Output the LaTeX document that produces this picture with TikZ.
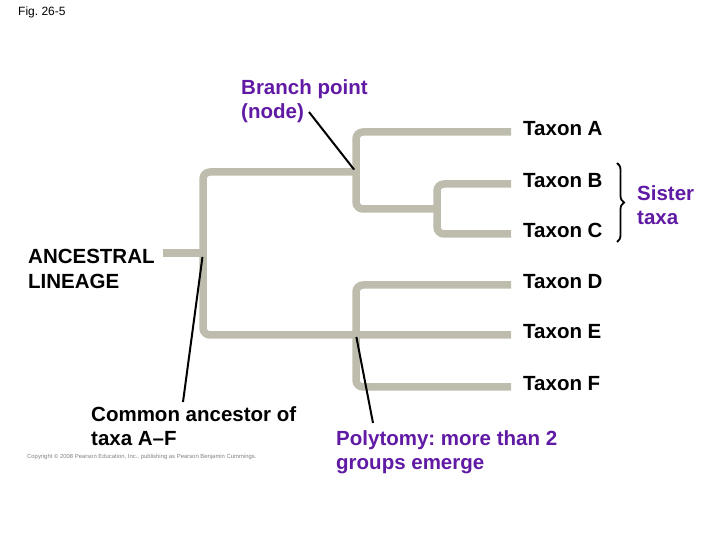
\documentclass[tikz,border=0pt]{standalone}
\usepackage{fontspec}
\setmainfont{Liberation Sans}
\usetikzlibrary{positioning,decorations.pathreplacing}
\definecolor{branchgray}{RGB}{190,189,173}
\definecolor{notepurple}{RGB}{96,26,164}
\frenchspacing
\begin{document}
\begin{tikzpicture}[x=1pt,y=1pt,
  branch/.style={draw=branchgray,line width=7.5pt,rounded corners=7pt},
  pointer/.style={draw=black,line width=2pt},
  taxon/.style={font=\fontsize{20.5}{24}\selectfont\bfseries,inner sep=0pt,yshift=3.5pt},
  callout/.style={font=\fontsize{20.5}{24.5}\selectfont\bfseries,inner sep=0pt,align=left,anchor=north west}]
  \useasboundingbox (0,0) rectangle (720,540);
  \coordinate (anc) at (163,287);
  \coordinate (root) at (203,287);
  \coordinate (nABC) at (356,368);
  \coordinate (nBC) at (437,331);
  \coordinate (nDEF) at (356,205);
  \coordinate (lA) at (511,408);
  \coordinate (lB) at (511,356);
  \coordinate (lC) at (511,306);
  \coordinate (lD) at (511,255);
  \coordinate (lE) at (511,205);
  \coordinate (lF) at (511,153);
  \draw[branch] (anc) -- (root);
  \draw[branch] (nABC) -| (root) |- (lE);
  \draw[branch] (lA) -| (nABC) |- (nBC);
  \draw[branch] (lB) -| (nBC) |- (lC);
  \draw[branch] (lD) -| (nDEF) |- (lF);
  \node[taxon,right=12pt of lA] (tA) {Taxon A};
  \node[taxon,right=12pt of lB] (tB) {Taxon B};
  \node[taxon,right=12pt of lC] (tC) {Taxon C};
  \node[taxon,right=12pt of lD] (tD) {Taxon D};
  \node[taxon,right=12pt of lE] (tE) {Taxon E};
  \node[taxon,right=12pt of lF] (tF) {Taxon F};
  \node[font=\fontsize{12}{13}\selectfont,anchor=west,inner sep=0pt] (fig) at (18,528) {Fig. 26-5};
  \node[callout,text=notepurple] (bp) at (241,461) {Branch point\\(node)};
  \node[callout] (lineage) at (28,291) {ANCESTRAL\\LINEAGE};
  \node[callout] (ca) at (91,134) {Common ancestor of\\taxa A--F};
  \node[callout,text=notepurple] (poly) at (336,110) {Polytomy: more than 2\\groups emerge};
  \node[callout,text=notepurple] (sister) at (637,355) {Sister\\taxa};
  \node[font=\fontsize{5.9}{6.5}\selectfont,text=gray,anchor=west,inner sep=0pt] (copy) at (27,83)
    {Copyright \textcopyright\ 2008 Pearson Education, Inc., publishing as Pearson Benjamin Cummings.};
  \coordinate (bpTail) at (309,428);
  \coordinate (caTail) at (183,138);
  \coordinate (polyTail) at (373,117);
  \coordinate (braceTop) at (617,377);
  \coordinate (braceBot) at (617,298);
  \draw[pointer,shorten >=3pt] (bpTail) -- (nABC);
  \draw[pointer,shorten >=4pt] (caTail) -- (root);
  \draw[pointer,shorten >=2pt] (polyTail) -- (nDEF);
  \draw[decorate,decoration={brace,amplitude=7pt},line width=1.8pt] (braceTop) -- (braceBot);
\end{tikzpicture}
\end{document}
